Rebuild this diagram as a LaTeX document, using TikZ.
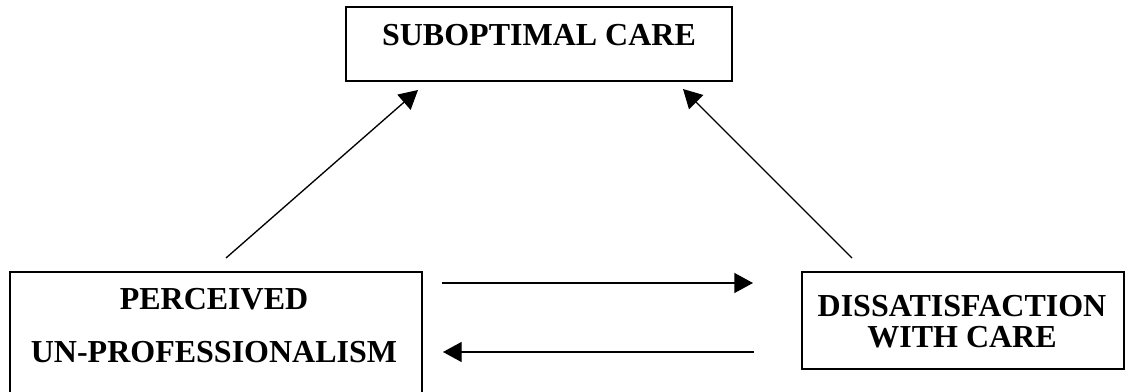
\documentclass[tikz,border=0pt]{standalone}
\usepackage{fontspec}
\setmainfont{Liberation Serif}
\usetikzlibrary{arrows.meta}
\begin{document}
\begin{tikzpicture}[x=0.75pt,y=-0.75pt,
  box/.style={draw=black, line width=1.5pt, rectangle, inner sep=0pt},
  lbl/.style={anchor=base, inner sep=0pt, font=\fontsize{24}{28}\selectfont\bfseries},
  arr/.style={draw=black, line width=1pt, -{Triangle[length=14pt,width=15pt]}}]
\useasboundingbox (0,0) rectangle (1133,392);
\fill[white] (0,0) rectangle (1133,392);
% boxes
\node[box, minimum width=289.5pt, minimum height=55.5pt] (care) at (539,44) {};
\node[box, minimum width=309pt, minimum height=93pt] (perc) at (216,334) {};
\node[box, minimum width=241.5pt, minimum height=72.75pt] (diss) at (963,320.5) {};
% texts
\node[lbl] (careTxt) at (539,46) {SUBOPTIMAL CARE};
\node[lbl] (perc1) at (214,310) {PERCEIVED};
\node[lbl] (perc2) at (214,363) {UN-PROFESSIONALISM};
\node[lbl] (diss1) at (962,316) {DISSATISFACTION};
\node[lbl] (diss2) at (962,348) {WITH CARE};
% arrow ends
\coordinate (a1) at (226,258);
\coordinate (a2) at (418,90);
\coordinate (b1) at (852,258);
\coordinate (b2) at (683,89);
\coordinate (c1) at (442,283);
\coordinate (c2) at (753,283);
\coordinate (d1) at (754,352);
\coordinate (d2) at (443,352);
\draw[arr] (a1) -- (a2);
\draw[arr] (b1) -- (b2);
\draw[arr] (c1) -- (c2);
\draw[arr] (d1) -- (d2);
\end{tikzpicture}
\end{document}
